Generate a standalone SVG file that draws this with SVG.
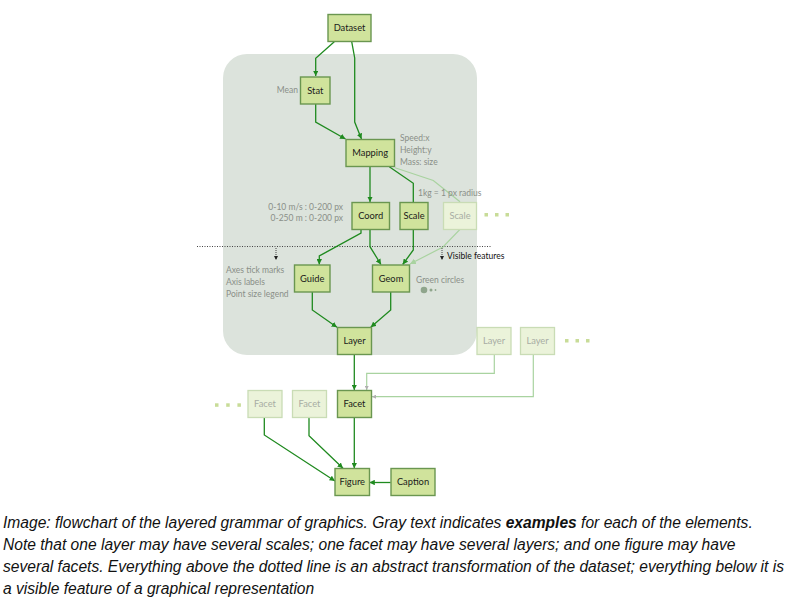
<svg xmlns="http://www.w3.org/2000/svg" width="795" height="606" viewBox="0 0 795 606">
<style>
.box{fill:#d0e39c;stroke:#6a9650;stroke-width:1.4}
.lbox{fill:#ebf3da;stroke:#c9dcb5;stroke-width:1.3}
.t{font-family:Lato,"Open Sans",sans-serif;font-size:9.3px;fill:#1a1a1a;text-anchor:middle}
.lt{font-family:Lato,"Open Sans",sans-serif;font-size:9.3px;fill:#a8ada4;text-anchor:middle}
.g{font-family:Lato,"Open Sans",sans-serif;font-size:8.5px;fill:#8a8f88}
.k{font-family:Lato,"Open Sans",sans-serif;font-size:8.5px;fill:#111}
.c{fill:none;stroke:#1f8a1f;stroke-width:1.3}
.lc{fill:none;stroke:#a9d3a0;stroke-width:1.2}
.dot{fill:#c8dc98}
.cap{font-family:"Liberation Sans",Arial,sans-serif;font-size:15.6px;font-style:italic;fill:#111}
</style>
<defs>
<marker id="a" viewBox="0 0 10 10" refX="10" refY="5" markerWidth="5.5" markerHeight="5.5" orient="auto" markerUnits="userSpaceOnUse"><path d="M0,0L10,5L0,10z" fill="#1f8a1f"/></marker>
<marker id="la" viewBox="0 0 10 10" refX="10" refY="5" markerWidth="6" markerHeight="6" orient="auto" markerUnits="userSpaceOnUse"><path d="M0,0L10,5L0,10z" fill="#a9d3a0"/></marker>
<marker id="ga" viewBox="0 0 10 10" refX="10" refY="5" markerWidth="4" markerHeight="4" orient="auto" markerUnits="userSpaceOnUse"><path d="M0,0L10,5L0,10z" fill="#b0b0b0"/></marker>
<marker id="ka" viewBox="0 0 10 10" refX="10" refY="5" markerWidth="4" markerHeight="4" orient="auto" markerUnits="userSpaceOnUse"><path d="M0,0L10,5L0,10z" fill="#222"/></marker>
</defs>
<rect x="223" y="54" width="254" height="301" rx="24" fill="#dce3dc"/>
<line x1="197" y1="246.5" x2="492" y2="246.5" stroke="#444" stroke-width="1" stroke-dasharray="1,1.5"/>
<g id="connectors">
<path class="c" d="M334.3,41.7L315.7,58.3L315.7,76" marker-end="url(#a)"/>
<path class="c" d="M351.7,41.7L354.7,58L354.7,122L361.5,139" marker-end="url(#a)"/>
<path class="c" d="M315.7,104L315.7,122L345.5,139" marker-end="url(#a)"/>
<path class="c" d="M370,166.7L370,202" marker-end="url(#a)"/>
<path class="c" d="M389.3,166.7L413.3,183.3L413.3,202"/>
<path class="lc" d="M395,167.7L433.3,180.5L460,201.7"/>
<path class="c" d="M361,229.3L361,233L319.3,256L319.3,264.5" marker-end="url(#a)"/>
<path class="c" d="M370,229.3L370,246.7L381,264.5" marker-end="url(#a)"/>
<path class="c" d="M413.3,229.3L413.3,250L402.7,264.5" marker-end="url(#a)"/>
<path class="lc" d="M460,229.3L443,247L410,264" marker-end="url(#la)"/>
<path class="c" d="M312.3,292L312.3,310L337,327.3" marker-end="url(#a)"/>
<path class="c" d="M390.7,292L390.7,310L370.7,327.3" marker-end="url(#a)"/>
<path class="c" d="M354.3,354.3L354.3,390" marker-end="url(#a)"/>
<path class="lc" d="M494.3,354.3L494.3,373.3L366.7,373.3L366.7,390" marker-end="url(#ga)"/>
<path class="lc" d="M533.3,354.3L533.3,396.7L372,396.7" marker-end="url(#ga)"/>
<path class="c" d="M264.3,417.7L264.3,435L335,481" marker-end="url(#a)"/>
<path class="c" d="M309,417.7L309,435.7L343,468.3" marker-end="url(#a)"/>
<path class="c" d="M354.3,417.7L354.3,468.3" marker-end="url(#a)"/>
<path class="c" d="M390.7,482.5L369.3,482.5" marker-end="url(#a)"/>
<path d="M276,248L276,260" fill="none" stroke="#333" stroke-width="0.9" stroke-dasharray="1,1" marker-end="url(#ka)"/>
<path d="M442,248L442,260" fill="none" stroke="#333" stroke-width="0.9" stroke-dasharray="1,1" marker-end="url(#ka)"/>
</g>
<g id="dataset"><rect class="box" x="328" y="14.5" width="43" height="27"/><text class="t" x="349.5" y="31">Dataset</text></g>
<g id="stat"><rect class="box" x="300.5" y="77" width="29.5" height="27"/><text class="t" x="315.3" y="93.5">Stat</text></g>
<g id="mapping"><rect class="box" x="346" y="139.5" width="48.5" height="27"/><text class="t" x="370.2" y="156">Mapping</text></g>
<g id="coord"><rect class="box" x="352" y="202.5" width="37.5" height="27"/><text class="t" x="370.7" y="219">Coord</text></g>
<g id="scale"><rect class="box" x="400" y="202.5" width="28" height="27"/><text class="t" x="414" y="219">Scale</text></g>
<g id="scale2"><rect class="lbox" x="443.5" y="202.5" width="33" height="27"/><text class="lt" x="460" y="219">Scale</text></g>
<g id="guide"><rect class="box" x="294.5" y="265" width="35.5" height="27"/><text class="t" x="312.2" y="281.5">Guide</text></g>
<g id="geom"><rect class="box" x="372.5" y="265" width="37" height="27"/><text class="t" x="391" y="281.5">Geom</text></g>
<g id="layer"><rect class="box" x="337.5" y="327.5" width="34" height="27"/><text class="t" x="354.5" y="344">Layer</text></g>
<g id="layer2"><rect class="lbox" x="477" y="327.5" width="34" height="27"/><text class="lt" x="494" y="344">Layer</text></g>
<g id="layer3"><rect class="lbox" x="520.5" y="327.5" width="34" height="27"/><text class="lt" x="537.5" y="344">Layer</text></g>
<g id="facet"><rect class="box" x="337.5" y="390.5" width="34" height="27"/><text class="t" x="354.5" y="407">Facet</text></g>
<g id="facet2"><rect class="lbox" x="248" y="390.5" width="34" height="27"/><text class="lt" x="265" y="407">Facet</text></g>
<g id="facet3"><rect class="lbox" x="292.5" y="390.5" width="34" height="27"/><text class="lt" x="309.5" y="407">Facet</text></g>
<g id="figure"><rect class="box" x="335" y="468.5" width="34.5" height="27"/><text class="t" x="352.2" y="485">Figure</text></g>
<g id="caption"><rect class="box" x="391" y="468.5" width="44" height="27"/><text class="t" x="413" y="485">Caption</text></g>
<g id="labels">
<text class="g" x="298" y="93" text-anchor="end">Mean</text>
<text class="g" x="400" y="141">Speed:x</text>
<text class="g" x="400" y="153">Height:y</text>
<text class="g" x="400" y="165">Mass: size</text>
<text class="g" x="418" y="196">1kg = 1 px radius</text>
<text class="g" x="343" y="209.5" text-anchor="end">0-10 m/s : 0-200 px</text>
<text class="g" x="343" y="221" text-anchor="end">0-250 m :  0-200 px</text>
<text class="g" x="226" y="272.5">Axes tick marks</text>
<text class="g" x="226" y="284.5">Axis labels</text>
<text class="g" x="226" y="296.5">Point size legend</text>
<text class="g" x="416" y="283">Green circles</text>
<text class="k" x="447" y="258.5">Visible features</text>
<circle cx="424" cy="290" r="3.3" fill="#8fa58c"/>
<circle cx="431" cy="290" r="1.5" fill="#8fa58c"/>
<circle cx="435.5" cy="290" r="0.9" fill="#8fa58c"/>
</g>
<g id="ellipses">
<rect class="dot" x="484.5" y="213" width="3.5" height="3.5"/><rect class="dot" x="495" y="213" width="3.5" height="3.5"/><rect class="dot" x="505.5" y="213" width="3.5" height="3.5"/>
<rect class="dot" x="565" y="339" width="3.5" height="3.5"/><rect class="dot" x="575.5" y="339" width="3.5" height="3.5"/><rect class="dot" x="586" y="339" width="3.5" height="3.5"/>
<rect class="dot" x="215" y="403.3" width="3.5" height="3.5"/><rect class="dot" x="226.2" y="403.3" width="3.5" height="3.5"/><rect class="dot" x="237.4" y="403.3" width="3.5" height="3.5"/>
</g>
<g id="caption-text">
<text class="cap" x="3" y="527.5">Image: flowchart of the layered grammar of graphics. Gray text indicates <tspan font-weight="bold">examples</tspan> for each of the elements.</text>
<text class="cap" x="3" y="549.5">Note that one layer may have several scales; one facet may have several layers; and one figure may have</text>
<text class="cap" x="3" y="571.5">several facets. Everything above the dotted line is an abstract transformation of the dataset; everything below it is</text>
<text class="cap" x="3" y="593.5">a visible feature of a graphical representation</text>
</g>
</svg>
